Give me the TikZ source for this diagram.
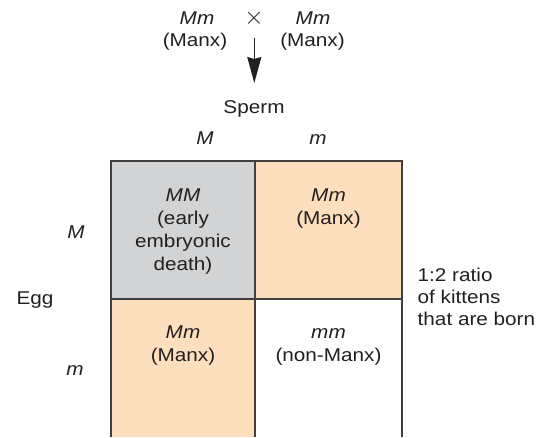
\documentclass[tikz,border=0pt]{standalone}
\usepackage{fontspec}
\setmainfont{Liberation Sans}[FakeStretch=1.12]
\usetikzlibrary{arrows.meta}
\definecolor{cellgray}{RGB}{209,211,212}
\definecolor{cellpeach}{RGB}{253,223,190}
\definecolor{gridline}{RGB}{64,64,64}
\definecolor{inktext}{RGB}{35,31,32}
\begin{document}
\begin{tikzpicture}[x=1pt,y=-1pt,
  txt/.style={font=\fontsize{18.5}{22}\selectfont, inner sep=0pt, anchor=base, text=inktext},
  txtl/.style={txt, anchor=base west},
  gridstroke/.style={draw=gridline, line width=1.3pt},
  crossarrow/.style={draw=inktext, line width=1.5pt, -{Stealth[length=26pt,width=14pt,inset=2pt]}}]
\useasboundingbox (0,0) rectangle (540,437);
% cells
\path[fill=cellgray]  (111,161) rectangle (255,299);
\path[fill=cellpeach] (255,161) rectangle (402,299);
\path[fill=cellpeach] (111,299) rectangle (255,437);
\path[fill=white]     (255,299) rectangle (402,437);
\path[gridstroke] (111,437) -- (111,161) -- (402,161) -- (402,437);
\path[gridstroke] (255,161) -- (255,437);
\path[gridstroke] (111,299) -- (402,299);
% cross
\node[txt] (p1g) at (197,24) {\itshape Mm};
\node[txt] (p1p) at (195,46) {(Manx)};
\node[txt, anchor=center, font=\fontsize{24}{24}\selectfont] (cross) at (254,18) {$\times$};
\node[txt] (p2g) at (313,24) {\itshape Mm};
\node[txt] (p2p) at (312.5,46) {(Manx)};
\coordinate (arrtop) at (254.3,38);
\coordinate (arrtip) at (254.3,83);
\draw[crossarrow] (arrtop) -- (arrtip);
% headers
\node[txt] (sperm) at (254,113) {Sperm};
\node[txt] (sM) at (205,144) {\itshape M};
\node[txt] (sm) at (318,144) {\itshape m};
\node[txt] (egg) at (35,304) {Egg};
\node[txt] (eM) at (76,238) {\itshape M};
\node[txt] (em) at (75,375) {\itshape m};
% cell texts
\node[txt] (c11a) at (183,201) {\itshape MM};
\node[txt] (c11b) at (183,224) {(early};
\node[txt] (c11c) at (183,247) {embryonic};
\node[txt] (c11d) at (183,270) {death)};
\node[txt] (c12a) at (328.5,201) {\itshape Mm};
\node[txt] (c12b) at (328.5,224) {(Manx)};
\node[txt] (c21a) at (183,338) {\itshape Mm};
\node[txt] (c21b) at (183,361) {(Manx)};
\node[txt] (c22a) at (328.5,338) {\itshape mm};
\node[txt] (c22b) at (328.5,361) {(non-Manx)};
% ratio
\node[txtl] (r1) at (417.5,281) {1:2 ratio};
\node[txtl] (r2) at (417.5,303) {of kittens};
\node[txtl] (r3) at (417.5,325) {that are born};
\end{tikzpicture}
\end{document}
